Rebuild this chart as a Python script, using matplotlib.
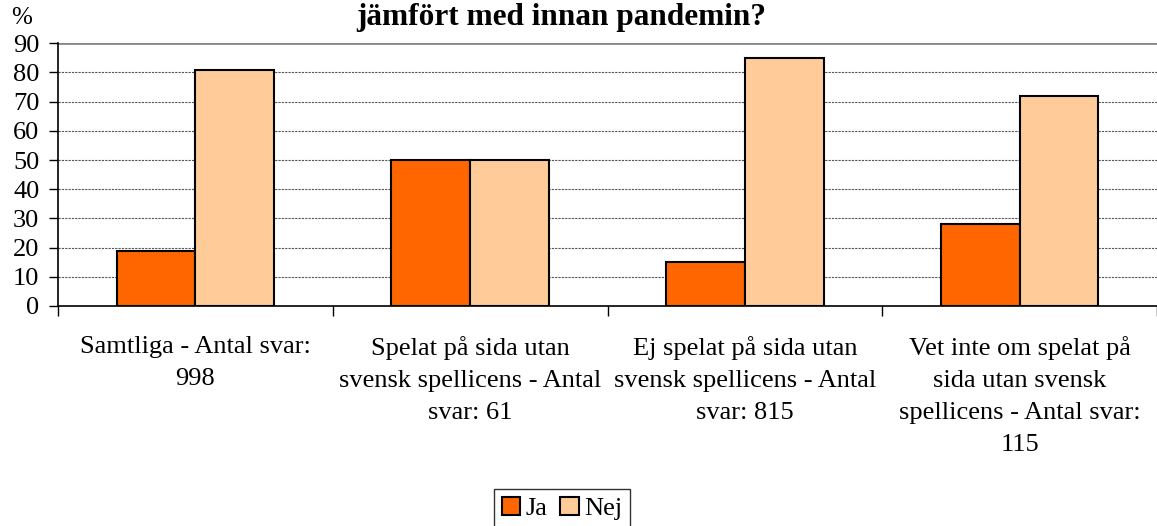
import matplotlib
matplotlib.use("Agg")
import matplotlib.pyplot as plt
import numpy as np

categories = ["Samtliga - Antal svar:\n998",
              "Spelat på sida utan\nsvensk spellicens - Antal\nsvar: 61",
              "Ej spelat på sida utan\nsvensk spellicens - Antal\nsvar: 815",
              "Vet inte om spelat på\nsida utan svensk\nspellicens - Antal svar:\n115"]
ja = [19, 50, 15, 28]
nej = [81, 50, 85, 72]
series_names = ["Ja", "Nej"]
yticks = [0, 10, 20, 30, 40, 50, 60, 70, 80, 90]

plt.rcParams['font.family'] = ['Liberation Serif', 'DejaVu Serif']

W, H = 1157, 526
fig = plt.figure(figsize=(W/100, H/100), dpi=100)
left, right = 58, 1157
top, bottom = 43.3, 306
ax = fig.add_axes([left/W, 1 - bottom/H, (right-left)/W, (bottom-top)/H])

x = np.arange(len(categories))
bw = 0.287
ax.bar(x - bw/2, ja, bw, color="#FF6600", edgecolor="black", linewidth=1.5, label=series_names[0], zorder=3)
ax.bar(x + bw/2, nej, bw, color="#FFCC99", edgecolor="black", linewidth=1.5, label=series_names[1], zorder=3)

ax.set_xlim(-0.5, -0.5 + (right-left)/277.0)
ax.set_ylim(0, 90)
ax.set_yticks(yticks)
ax.tick_params(axis='y', labelsize=19, length=6.5, width=1, direction='out', pad=7)
ax.set_xticks(np.arange(-0.5, len(categories), 1.0))
ax.set_xticklabels([])
ax.tick_params(axis='x', length=7, width=1, direction='out')

for y in yticks[1:-1]:
    ax.axhline(y, color="#555555", linewidth=0.8, linestyle=(0, (2, 1)), zorder=1)
ax.axhline(90, color="#888888", linewidth=2.0, zorder=2)

for s in ["top", "right"]:
    ax.spines[s].set_visible(False)
ax.spines["left"].set_linewidth(1.2)
ax.spines["bottom"].set_linewidth(1.2)

for xi, lab in zip(x, categories):
    ax.text(xi, -10.3, lab, ha="center", va="top", fontsize=19, linespacing=1.58,
            transform=ax.transData)

fig.text(22/W, 1 - 18/H, "%", ha="center", va="center", fontsize=18)
fig.text(561/W, 1 - 17/H, "jämfört med innan pandemin?", ha="center", va="center",
         fontsize=22.5, fontweight="bold")

leg = fig.legend(loc="upper center", bbox_to_anchor=(562/W, 1 - 489/H), ncol=2,
                 fontsize=19, frameon=True, fancybox=False, edgecolor="black",
                 handlelength=0.7, handleheight=0.7, handletextpad=0.2,
                 columnspacing=0.5, borderpad=0.3, borderaxespad=0)
leg.get_frame().set_linewidth(1.0)

fig.savefig("out.png", dpi=100)
